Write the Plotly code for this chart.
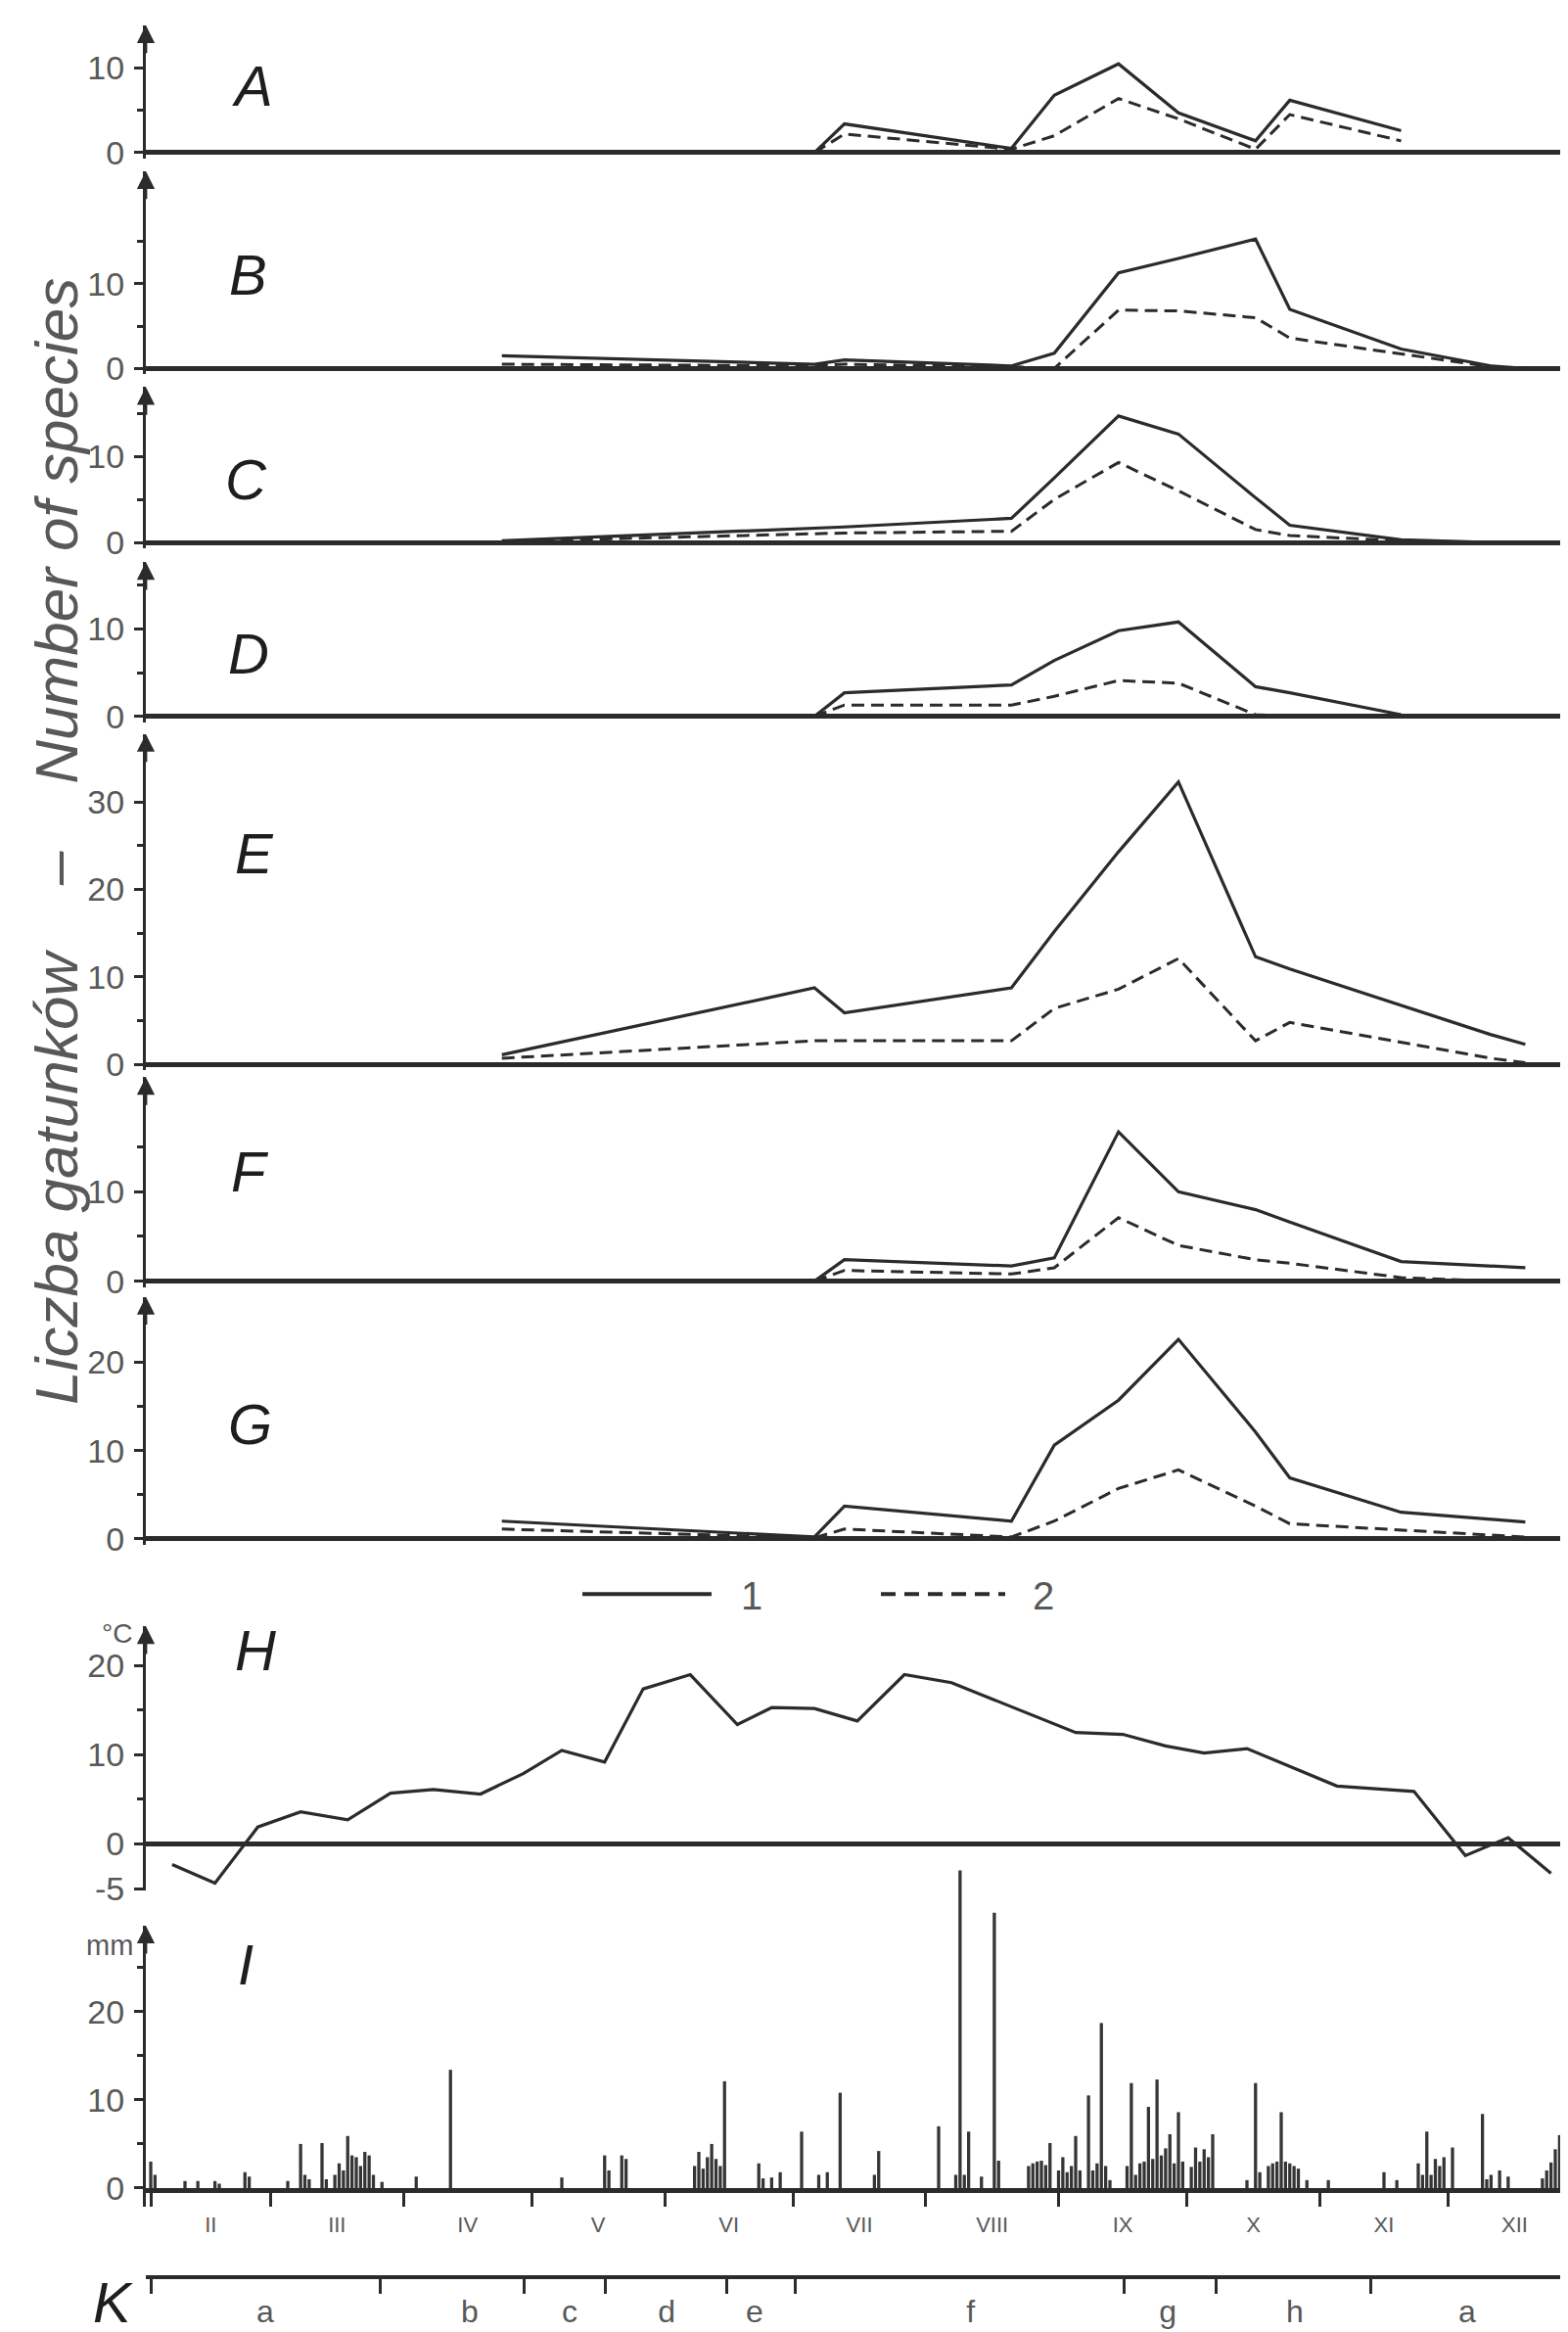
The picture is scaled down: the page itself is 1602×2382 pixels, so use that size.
import plotly.graph_objects as go

# ---------------- data (days counted from 1 February) ----------------
sample_days = [82, 155, 162, 201, 211, 226, 240, 258, 266, 292, 313, 321]

A_1 = [None, 0, 3.4, 0.5, 6.8, 10.5, 4.7, 1.4, 6.2, 2.6, None, None]
A_2 = [None, 0, 2.2, 0.4, 2.0, 6.4, 4.0, 0.4, 4.5, 1.4, None, None]
B_1 = [1.5, 0.5, 1.0, 0.3, 1.8, 11.3, 13.0, 15.3, 7.0, 2.3, 0.3, 0]
B_2 = [0.5, 0.3, 0.5, 0.2, 0.0, 6.9, 6.8, 6.0, 3.6, 1.7, 0.2, 0]
C_1 = [0.2, 1.6, 1.8, 2.8, 7.5, 14.7, 12.6, 5.2, 2.0, 0.3, 0, None]
C_2 = [0.1, 1.0, 1.1, 1.3, 5.0, 9.3, 6.0, 1.5, 0.8, 0.2, 0, None]
D_1 = [None, 0, 2.7, 3.6, 6.4, 9.8, 10.8, 3.4, 2.7, 0.2, None, None]
D_2 = [None, 0, 1.3, 1.3, 2.3, 4.1, 3.8, 0.2, 0, None, None, None]
E_1 = [1.1, 8.75, 5.9, 8.75, 15.2, 24.3, 32.3, 12.3, 10.9, 6.8, 3.4, 2.3]
E_2 = [0.7, 2.7, 2.7, 2.7, 6.4, 8.6, 12.1, 2.7, 4.8, 2.5, 0.7, 0.2]
F_1 = [None, 0, 2.4, 1.7, 2.6, 16.7, 10.0, 8.0, 6.6, 2.2, 1.7, 1.5]
F_2 = [None, 0, 1.2, 0.8, 1.5, 7.1, 4.0, 2.4, 2.0, 0.4, 0, None]
G_1 = [2.0, 0.2, 3.7, 2.0, 10.6, 15.7, 22.6, 12.1, 6.9, 3.0, 2.2, 1.9]
G_2 = [1.1, 0.1, 1.1, 0.2, 2.0, 5.7, 7.8, 3.7, 1.7, 1.0, 0.4, 0.2]

temp_days = [5, 15, 25, 35, 46, 56, 66, 77, 87, 96, 106, 115, 126, 137, 145, 155,
             165, 176, 187, 216, 227, 237, 246, 256, 277, 295, 307, 317, 327]
temp_c = [-2.3, -4.4, 1.9, 3.6, 2.7, 5.7, 6.1, 5.6, 7.9, 10.5, 9.2, 17.4, 19.0, 13.4,
          15.3, 15.2, 13.8, 19.0, 18.1, 12.5, 12.3, 11.0, 10.2, 10.7, 6.5, 5.9, -1.3, 0.7, -3.3]

rain_days = [0, 1, 8, 11, 15, 16, 22, 23, 32, 35, 36, 37, 40, 41, 43, 44, 45, 46, 47, 48, 49,
             50, 51, 52, 54, 62, 70, 96, 106, 107, 110, 111, 127, 128, 129, 130, 131, 132,
             133, 134, 142, 143, 145, 147, 152, 156, 158, 161, 169, 170, 184, 188, 189, 190,
             191, 194, 197, 198, 205, 206, 207, 208, 209, 210, 212, 213, 214, 215, 216, 217,
             219, 220, 221, 222, 223, 224, 228, 229, 230, 231, 232, 233, 234, 235, 236, 237,
             238, 239, 240, 241, 243, 244, 245, 246, 247, 248, 256, 258, 259, 261, 262, 263,
             264, 265, 266, 267, 268, 270, 275, 288, 291, 296, 297, 298, 299, 300, 301, 302,
             304, 311, 312, 313, 315, 317, 325, 326, 327, 328, 329, 330, 331, 332]
rain_mm = [3.0, 1.5, 0.8, 0.8, 0.8, 0.5, 1.8, 1.3, 0.8, 5.0, 1.5, 1.0, 5.1, 1.0, 1.5, 2.8,
           2.0, 5.9, 3.7, 3.5, 2.5, 4.1, 3.7, 1.5, 0.7, 1.3, 13.4, 1.2, 3.7, 2.0, 3.7, 3.3,
           2.5, 4.1, 2.2, 3.5, 5.0, 3.3, 2.5, 12.1, 2.8, 1.1, 1.2, 1.8, 6.4, 1.5, 1.8, 10.8,
           1.5, 4.2, 7.0, 1.5, 36.0, 1.5, 6.4, 1.3, 31.2, 3.1, 2.5, 2.8, 3.0, 3.1, 2.6, 5.1,
           2.0, 3.5, 1.8, 2.5, 5.9, 2.0, 10.5, 2.0, 2.8, 18.7, 2.5, 0.9, 2.5, 11.9, 1.5, 2.8,
           3.0, 9.2, 3.3, 12.3, 3.7, 4.5, 6.1, 2.8, 8.6, 3.0, 2.4, 4.6, 3.0, 4.4, 3.5, 6.1,
           0.9, 11.9, 1.8, 2.5, 2.8, 3.0, 8.6, 3.0, 2.8, 2.5, 2.2, 0.9, 0.9, 1.8, 0.9, 2.8,
           1.5, 6.4, 1.5, 3.3, 2.5, 3.5, 4.6, 8.4, 1.0, 1.5, 2.0, 1.3, 1.1, 2.0, 2.9, 4.4,
           6.0, 15.6, 7.0, 5.0]

month_starts = [0, 28, 59, 89, 120, 150, 181, 212, 242, 273, 303]
month_mids = [14, 43.5, 74, 104.5, 135, 165.5, 196.5, 227, 257.5, 288, 318.5]
month_labels = ["II", "III", "IV", "V", "VI", "VII", "VIII", "IX", "X", "XI", "XII"]

k_bounds = [0, 53.5, 87.3, 106.1, 134.6, 150.6, 227.4, 248.7, 284.8]
k_label_pos = [26.7, 74.5, 97.8, 120.5, 141, 191.5, 237.5, 267.2, 307.4]
k_labels = ["a", "b", "c", "d", "e", "f", "g", "h", "a"]

species_panels = [("A", A_1, A_2), ("B", B_1, B_2), ("C", C_1, C_2), ("D", D_1, D_2),
                  ("E", E_1, E_2), ("F", F_1, F_2), ("G", G_1, G_2)]

# ---------------- geometry / style ----------------
W, H = 1602, 2382
X0, X1 = -1.143, 332.8
XD = [141 / W, 1.0]
INK = "#2b2b2b"
GREY = "#585858"
FONT = "Liberation Sans, Arial, sans-serif"


def fy(p):
    return 1 - p / H


def fx(p):
    return p / W


# baseline px, px per unit, arrow-top px, axis-bottom px, ticks, minor ticks, label pos
geom = {
    "A": (149, 8.7, 18, 155, [0, 10], [5], (250, 80)),
    "B": (371, 8.7, 168, 377, [0, 10], [5, 15], (245, 274)),
    "C": (550, 8.85, 390, 556, [0, 10], [5, 15], (243, 485)),
    "D": (729, 9.0, 570, 735, [0, 10], [5, 15], (246, 664)),
    "E": (1087, 9.0, 747, 1093, [0, 10, 20, 30], [5, 15, 25], (252, 870)),
    "F": (1310, 9.2, 1100, 1316, [0, 10], [5, 15], (248, 1197)),
    "G": (1575, 9.08, 1326, 1581, [0, 10, 20], [5, 15], (248, 1457)),
    "H": (1889, 9.17, 1665, 1937, [-5, 0, 10, 20], [5, 15], (253, 1690)),
    "I": (2243, 9.08, 1973, 2262, [0, 10, 20], [5, 15, 25], (243, 2013)),
}

fig = go.Figure()
layout = dict(
    width=W, height=H, margin=dict(l=0, r=0, t=0, b=0),
    paper_bgcolor="white", plot_bgcolor="rgba(0,0,0,0)", showlegend=False,
    font=dict(family=FONT, color=GREY),
)
annotations = []
shapes = []


def yaxis_style(key, show_zero=True):
    b, s, T, Bt, tv, mv, _ = geom[key]
    return dict(
        domain=[fy(Bt), fy(T)], range=[-(Bt - b) / s, (b - T) / s],
        showgrid=False, showline=True, linecolor=INK, linewidth=3,
        zeroline=show_zero, zerolinecolor=INK, zerolinewidth=4.5,
        tickmode="array", tickvals=tv, ticktext=[str(v) for v in tv],
        ticks="outside", ticklen=9, tickwidth=2.5, tickcolor=INK,
        minor=dict(tickvals=mv, ticks="outside", ticklen=6, tickwidth=2.5, tickcolor=INK),
        tickfont=dict(size=34, color=GREY, family=FONT), ticklabelstandoff=3,
        fixedrange=True,
    )


def arrow(xref, yref, key):
    b, s, T, Bt, *_ = geom[key]
    return dict(x=X0, y=(b - T) / s, xref=xref, yref=yref, text="", showarrow=True,
                ax=0, ay=30, arrowhead=2, arrowsize=1.3, arrowwidth=2.8, arrowcolor=INK)


def letter(key):
    x, y = geom[key][6]
    return dict(x=fx(x), y=fy(y), xref="paper", yref="paper", text="<i>%s</i>" % key,
                showarrow=False, xanchor="center", yanchor="middle",
                font=dict(size=58, color="#1e1e1e", family=FONT))


# species panels A..G
for i, (key, s1, s2) in enumerate(species_panels, start=1):
    xa, ya = "x%d" % i, "y%d" % i
    fig.add_trace(go.Scatter(x=sample_days, y=s1, mode="lines", xaxis=xa, yaxis=ya,
                             line=dict(color=INK, width=3.2), hoverinfo="skip"))
    fig.add_trace(go.Scatter(x=sample_days, y=s2, mode="lines", xaxis=xa, yaxis=ya,
                             line=dict(color=INK, width=3.0, dash="13px,7px"), hoverinfo="skip"))
    layout["xaxis%d" % i] = dict(domain=XD, range=[X0, X1], visible=False, anchor=ya, fixedrange=True)
    ya_style = yaxis_style(key)
    ya_style["anchor"] = xa
    layout["yaxis%d" % i] = ya_style
    annotations.append(arrow(xa, ya, key))
    annotations.append(letter(key))

# H temperature
fig.add_trace(go.Scatter(x=temp_days, y=temp_c, mode="lines", xaxis="x8", yaxis="y8",
                         line=dict(color=INK, width=3.2), hoverinfo="skip"))
layout["xaxis8"] = dict(domain=XD, range=[X0, X1], visible=False, anchor="y8", fixedrange=True)
hy = yaxis_style("H")
hy["anchor"] = "x8"
layout["yaxis8"] = hy
annotations.append(arrow("x8", "y8", "H"))
annotations.append(letter("H"))

# I precipitation
bI, sI = geom["I"][0], geom["I"][1]
fig.add_trace(go.Bar(x=rain_days, y=rain_mm, width=0.75, xaxis="x9", yaxis="y9",
                     marker=dict(color="#353535", line=dict(width=0)), hoverinfo="skip"))
layout["yaxis9"] = dict(domain=[fy(bI), fy(1905)], range=[0, (bI - 1905) / sI], visible=False,
                        anchor="x9", fixedrange=True)
layout["xaxis9"] = dict(
    domain=XD, range=[X0, X1], anchor="y9", showline=True, linecolor=INK, linewidth=4.5,
    showgrid=False, zeroline=False, tickmode="array", tickvals=month_mids, ticktext=month_labels,
    ticks="", tickfont=dict(size=22, color=GREY, family=FONT), ticklabelstandoff=14,
    minor=dict(tickvals=month_starts, ticks="outside", ticklen=14, tickwidth=2.5, tickcolor=INK),
    fixedrange=True,
)
fig.add_trace(go.Scatter(x=[None], y=[None], xaxis="x9", yaxis="y10", mode="lines",
                         hoverinfo="skip"))
iy = yaxis_style("I", show_zero=False)
iy["anchor"] = "x9"
layout["yaxis10"] = iy
annotations.append(arrow("x9", "y10", "I"))
annotations.append(letter("I"))

# K periods axis
fig.add_trace(go.Scatter(x=[None], y=[None], xaxis="x10", yaxis="y11", mode="lines",
                         hoverinfo="skip"))
layout["yaxis11"] = dict(domain=[fy(2333), fy(2322)], range=[0, 1], visible=False,
                         anchor="x10", fixedrange=True)
layout["xaxis10"] = dict(
    domain=XD, range=[X0, X1], anchor="y11", showline=True, linecolor=INK, linewidth=4,
    showgrid=False, zeroline=False, tickmode="array", tickvals=k_label_pos, ticktext=k_labels,
    ticks="", tickfont=dict(size=32, color=GREY, family=FONT), ticklabelstandoff=5,
    minor=dict(tickvals=k_bounds, ticks="outside", ticklen=15, tickwidth=3, tickcolor=INK),
    fixedrange=True,
)

# other texts
annotations += [
    dict(x=fx(50), y=fy(858), xref="paper", yref="paper", showarrow=False, textangle=-90,
         text="<i>Liczba gatunków\u00a0\u00a0\u00a0 –\u00a0\u00a0\u00a0 Number of species</i>",
         xanchor="center", yanchor="middle", font=dict(size=62, color=GREY, family=FONT)),
    dict(x=fx(111), y=fy(1672), xref="paper", yref="paper", showarrow=False, textangle=0,
         text="°C", xanchor="center", yanchor="middle",
         font=dict(size=28, color=GREY, family=FONT)),
    dict(x=fx(104), y=fy(1993), xref="paper", yref="paper", showarrow=False, text="mm",
         xanchor="center", yanchor="middle", font=dict(size=29, color=GREY, family=FONT)),
    dict(x=fx(107), y=fy(2360), xref="paper", yref="paper", showarrow=False, text="<i>K</i>",
         xanchor="center", yanchor="middle", font=dict(size=58, color="#1e1e1e", family=FONT)),
    dict(x=fx(760), y=fy(1634), xref="paper", yref="paper", showarrow=False, text="1",
         xanchor="center", yanchor="middle", font=dict(size=40, color=GREY, family=FONT)),
    dict(x=fx(1058), y=fy(1634), xref="paper", yref="paper", showarrow=False, text="2",
         xanchor="center", yanchor="middle", font=dict(size=40, color=GREY, family=FONT)),
]
shapes += [
    dict(type="line", xref="paper", yref="paper", x0=fx(587), x1=fx(719), y0=fy(1632), y1=fy(1632),
         line=dict(color=INK, width=4)),
    dict(type="line", xref="paper", yref="paper", x0=fx(892), x1=fx(1019), y0=fy(1632), y1=fy(1632),
         line=dict(color=INK, width=4, dash="15px,9px")),
]

layout["annotations"] = annotations
layout["shapes"] = shapes
fig.update_layout(**layout)
fig.write_html("out.html")
